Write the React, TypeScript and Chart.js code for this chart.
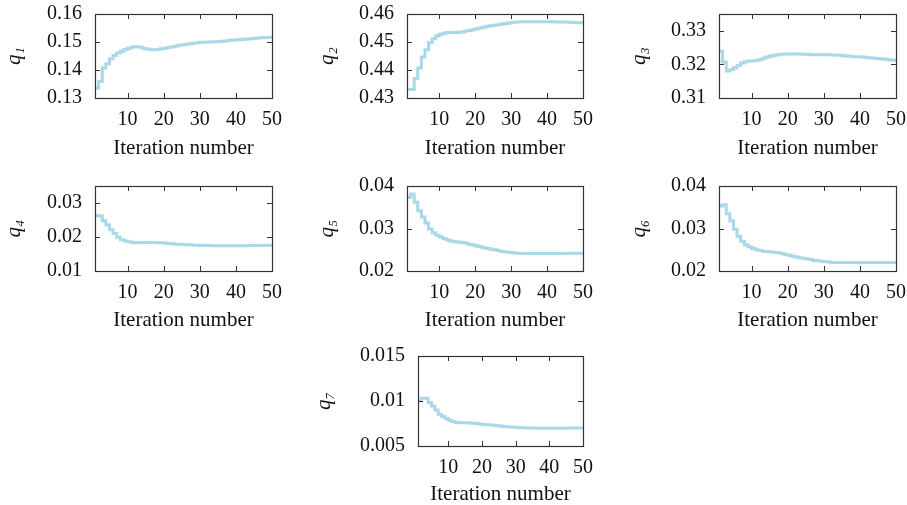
import React, { useEffect, useRef } from "react";
import { Chart, registerables } from "chart.js";

Chart.register(...registerables);

// ---------- data ----------
const iterations = Array.from({ length: 50 }, (_, i) => i + 1);
const xTicks = [10, 20, 30, 40, 50];

const q1 = [
  0.1335, 0.1359, 0.1407, 0.1422, 0.144, 0.1452, 0.1461, 0.1467, 0.1473, 0.1478,
  0.1482, 0.1483, 0.1482, 0.1478, 0.1475, 0.1472, 0.1472, 0.1473, 0.1476, 0.1478,
  0.148, 0.1483, 0.1485, 0.1488, 0.149, 0.1492, 0.1494, 0.1496, 0.1497, 0.1499,
  0.1499, 0.15, 0.1501, 0.1501, 0.1502, 0.1503, 0.1504, 0.1506, 0.1507, 0.1508,
  0.1509, 0.151, 0.1511, 0.1512, 0.1513, 0.1514, 0.1515, 0.1516, 0.1517, 0.1518,
];
const q2 = [
  0.433, 0.433, 0.437, 0.4407, 0.4446, 0.4472, 0.4498, 0.4512, 0.4522, 0.4528,
  0.4531, 0.4534, 0.4534, 0.4534, 0.4535, 0.4536, 0.4539, 0.4541, 0.4544, 0.4547,
  0.455, 0.4553, 0.4556, 0.4558, 0.456, 0.4562, 0.4564, 0.4566, 0.4568, 0.457,
  0.4571, 0.4571, 0.4572, 0.4572, 0.4572, 0.4572, 0.4572, 0.4572, 0.4572, 0.4572,
  0.4572, 0.4571, 0.4571, 0.4571, 0.4571, 0.457, 0.457, 0.457, 0.4569, 0.4569,
];
const q3 = [
  0.3239, 0.3207, 0.318, 0.3184, 0.319, 0.3197, 0.3204, 0.3208, 0.321, 0.321,
  0.3212, 0.3214, 0.3218, 0.3222, 0.3225, 0.3227, 0.3229, 0.323, 0.3231, 0.3231,
  0.3231, 0.3231, 0.3231, 0.323, 0.323, 0.3229, 0.3229, 0.3229, 0.3229, 0.3229,
  0.3229, 0.3228, 0.3228, 0.3227, 0.3226, 0.3225, 0.3224, 0.3223, 0.3223, 0.3222,
  0.3221, 0.322, 0.3219, 0.3218, 0.3217, 0.3216, 0.3215, 0.3213, 0.3212, 0.3211,
];
const q4 = [
  0.0263, 0.0262, 0.0248, 0.0236, 0.0221, 0.021, 0.0199, 0.0192, 0.0188, 0.0186,
  0.0184, 0.0183, 0.0184, 0.0184, 0.0184, 0.0184, 0.0184, 0.0183, 0.0183, 0.0182,
  0.0181, 0.018, 0.0179, 0.0179, 0.0178, 0.0177, 0.0177, 0.0176, 0.0176, 0.0175,
  0.0175, 0.0175, 0.0174, 0.0174, 0.0174, 0.0174, 0.0174, 0.0174, 0.0174, 0.0174,
  0.0174, 0.0174, 0.0175, 0.0175, 0.0175, 0.0175, 0.0175, 0.0176, 0.0176, 0.0176,
];
const q5 = [
  0.0373, 0.0381, 0.0362, 0.0342, 0.0327, 0.0313, 0.0299, 0.029, 0.0284, 0.028,
  0.0276, 0.0273, 0.027, 0.0269, 0.0268, 0.0267, 0.0266, 0.0263, 0.0261, 0.0259,
  0.0257, 0.0255, 0.0253, 0.0251, 0.025, 0.0248, 0.0246, 0.0245, 0.0244, 0.0243,
  0.0242, 0.0242, 0.0241, 0.0241, 0.0241, 0.0241, 0.0241, 0.0241, 0.0241, 0.0241,
  0.0241, 0.0241, 0.0241, 0.0241, 0.0241, 0.0242, 0.0242, 0.0242, 0.0242, 0.0242,
];
const q6 = [
  0.0353, 0.0356, 0.0335, 0.0318, 0.0298, 0.0282, 0.027, 0.0262, 0.0257, 0.0253,
  0.025, 0.0248, 0.0246, 0.0246, 0.0245, 0.0244, 0.0243, 0.0241, 0.0239, 0.0237,
  0.0235, 0.0233, 0.0231, 0.023, 0.0228, 0.0227, 0.0225, 0.0224, 0.0223, 0.0222,
  0.0221, 0.022, 0.022, 0.022, 0.022, 0.022, 0.022, 0.022, 0.022, 0.022,
  0.022, 0.022, 0.022, 0.022, 0.022, 0.022, 0.022, 0.022, 0.022, 0.0221,
];
const q7 = [
  0.01, 0.0103, 0.0103, 0.0098, 0.00945, 0.009, 0.00853, 0.00827, 0.00805, 0.00787,
  0.00772, 0.00761, 0.00757, 0.00757, 0.00757, 0.00756, 0.00754, 0.0075, 0.00745, 0.0074,
  0.00737, 0.00733, 0.0073, 0.00726, 0.00722, 0.00718, 0.00714, 0.00711, 0.00708, 0.00706,
  0.00704, 0.00702, 0.00701, 0.007, 0.007, 0.00698, 0.00698, 0.00698, 0.00698, 0.00698,
  0.00698, 0.00698, 0.00698, 0.00698, 0.00698, 0.00699, 0.00699, 0.007, 0.007, 0.007,
];

const q1Ticks = [0.13, 0.14, 0.15, 0.16];
const q1Labels = ["0.13", "0.14", "0.15", "0.16"];
const q2Ticks = [0.43, 0.44, 0.45, 0.46];
const q2Labels = ["0.43", "0.44", "0.45", "0.46"];
const q3Ticks = [0.31, 0.32, 0.33];
const q3Labels = ["0.31", "0.32", "0.33"];
const q4Ticks = [0.01, 0.02, 0.03];
const q4Labels = ["0.01", "0.02", "0.03"];
const q5Ticks = [0.02, 0.03, 0.04];
const q5Labels = ["0.02", "0.03", "0.04"];
const q6Ticks = [0.02, 0.03, 0.04];
const q6Labels = ["0.02", "0.03", "0.04"];
const q7Ticks = [0.005, 0.01, 0.015];
const q7Labels = ["0.005", "0.01", "0.015"];

// ---------- styling / layout ----------
const FONT = "'Liberation Serif', 'Times New Roman', serif";
const LINE_COLOR = "#a9d8e6";
const AXIS_COLOR = "#333";
const TEXT_COLOR = "#111";
const TICK_SIZE = 20;
const TITLE_SIZE = 21;

type PanelSpec = {
  title: string;
  values: number[];
  yTicks: number[];
  yLabels: string[];
  yMin: number;
  yMax: number;
  plot: [number, number, number, number]; // left, top, right, bottom
  yTitleGap: number;
  xTitleGap: number;
};

const panels: PanelSpec[] = [
  { title: "q₁", values: q1, yTicks: q1Ticks, yLabels: q1Labels, yMin: 0.13, yMax: 0.16, plot: [95, 14, 272, 98], yTitleGap: 81, xTitleGap: 50 },
  { title: "q₂", values: q2, yTicks: q2Ticks, yLabels: q2Labels, yMin: 0.43, yMax: 0.46, plot: [407, 14, 583, 98], yTitleGap: 80, xTitleGap: 50 },
  { title: "q₃", values: q3, yTicks: q3Ticks, yLabels: q3Labels, yMin: 0.31, yMax: 0.335, plot: [719, 14, 896, 98], yTitleGap: 80, xTitleGap: 50 },
  { title: "q₄", values: q4, yTicks: q4Ticks, yLabels: q4Labels, yMin: 0.01, yMax: 0.035, plot: [95, 186, 272, 271], yTitleGap: 81, xTitleGap: 49 },
  { title: "q₅", values: q5, yTicks: q5Ticks, yLabels: q5Labels, yMin: 0.02, yMax: 0.04, plot: [407, 186, 583, 271], yTitleGap: 80, xTitleGap: 49 },
  { title: "q₆", values: q6, yTicks: q6Ticks, yLabels: q6Labels, yMin: 0.02, yMax: 0.04, plot: [719, 186, 896, 271], yTitleGap: 80, xTitleGap: 49 },
  { title: "q₇", values: q7, yTicks: q7Ticks, yLabels: q7Labels, yMin: 0.005, yMax: 0.015, plot: [418, 356, 583, 446], yTitleGap: 94, xTitleGap: 48 },
];

// canvas margins around each plot box (larger than Chart.js' label overflow padding)
const PAD_L = 112;
const PAD_T = 32;
const PAD_R = 28;
const PAD_B = 68;
const TICK_LEN = 5;

const framePlugin = {
  id: "frameTicks",
  afterDatasetsDraw(chart: any) {
    const { ctx, chartArea: a, scales } = chart;
    const x = scales.x;
    const y = scales.y;
    ctx.save();
    ctx.strokeStyle = AXIS_COLOR;
    ctx.lineWidth = 1;
    ctx.beginPath();
    x.ticks.forEach((t: any) => {
      const px = Math.round(x.getPixelForValue(t.value)) + 0.5;
      ctx.moveTo(px, a.bottom);
      ctx.lineTo(px, a.bottom - TICK_LEN);
      ctx.moveTo(px, a.top);
      ctx.lineTo(px, a.top + TICK_LEN);
    });
    y.ticks.forEach((t: any) => {
      const py = Math.round(y.getPixelForValue(t.value)) + 0.5;
      ctx.moveTo(a.left, py);
      ctx.lineTo(a.left + TICK_LEN, py);
      ctx.moveTo(a.right, py);
      ctx.lineTo(a.right - TICK_LEN, py);
    });
    ctx.stroke();
    ctx.lineWidth = 1.2;
    ctx.strokeRect(Math.round(a.left) + 0.5, Math.round(a.top) + 0.5, Math.round(a.width), Math.round(a.height));
    ctx.restore();
  },
};

function Panel({ spec }: { spec: PanelSpec }) {
  const ref = useRef<HTMLCanvasElement | null>(null);
  const [L, T, R, B] = spec.plot;
  const w = R - L + PAD_L + PAD_R;
  const h = B - T + PAD_T + PAD_B;

  useEffect(() => {
    if (!ref.current) return;
    const yTitlePad = PAD_L - spec.yTitleGap - (TITLE_SIZE * 1.2) / 2;
    const xTitlePad = PAD_B - spec.xTitleGap - (TITLE_SIZE * 1.2) / 2;
    const chart = new Chart(ref.current, {
      type: "line",
      data: {
        datasets: [
          {
            data: iterations.map((it, i) => ({ x: it, y: spec.values[i] })),
            borderColor: LINE_COLOR,
            borderWidth: 3,
            pointRadius: 0,
            stepped: true,
            fill: false,
          },
        ],
      },
      options: {
        animation: false,
        responsive: false,
        events: [],
        layout: { padding: { left: 0, top: PAD_T, right: PAD_R, bottom: 0 } },
        plugins: { legend: { display: false }, tooltip: { enabled: false } },
        scales: {
          x: {
            type: "linear",
            min: 1,
            max: 50,
            afterBuildTicks: (s: any) => {
              s.ticks = xTicks.map((v) => ({ value: v }));
            },
            afterFit: (s: any) => {
              s.height = PAD_B;
            },
            grid: { display: false, drawTicks: false },
            border: { display: false },
            ticks: {
              autoSkip: false,
              maxRotation: 0,
              padding: 10,
              color: TEXT_COLOR,
              font: { family: FONT, size: TICK_SIZE },
              callback: (v: any) => String(v),
            },
            title: {
              display: true,
              text: "Iteration number",
              color: TEXT_COLOR,
              font: { family: FONT, size: TITLE_SIZE },
              padding: { top: 0, bottom: xTitlePad },
            },
          },
          y: {
            type: "linear",
            min: spec.yMin,
            max: spec.yMax,
            afterBuildTicks: (s: any) => {
              s.ticks = spec.yTicks.map((v) => ({ value: v }));
            },
            afterFit: (s: any) => {
              s.width = PAD_L;
            },
            grid: { display: false, drawTicks: false },
            border: { display: false },
            ticks: {
              autoSkip: false,
              padding: 13,
              color: TEXT_COLOR,
              font: { family: FONT, size: TICK_SIZE },
              callback: (_v: any, idx: number) => spec.yLabels[idx],
            },
            title: {
              display: true,
              text: spec.title,
              color: TEXT_COLOR,
              font: { family: FONT, size: TITLE_SIZE, style: "italic" },
              padding: { top: yTitlePad, bottom: 0 },
            },
          },
        },
      },
      plugins: [framePlugin],
    } as any);
    return () => chart.destroy();
  }, [spec]);

  return (
    <canvas
      ref={ref}
      width={w}
      height={h}
      style={{ position: "absolute", left: L - PAD_L, top: T - PAD_T, width: w, height: h }}
    />
  );
}

export default function App() {
  return (
    <div
      style={{
        position: "absolute",
        left: 0,
        top: 0,
        width: 907,
        height: 505,
        overflow: "hidden",
        background: "#fff",
      }}
    >
      {panels.map((p, i) => (
        <Panel key={i} spec={p} />
      ))}
    </div>
  );
}
